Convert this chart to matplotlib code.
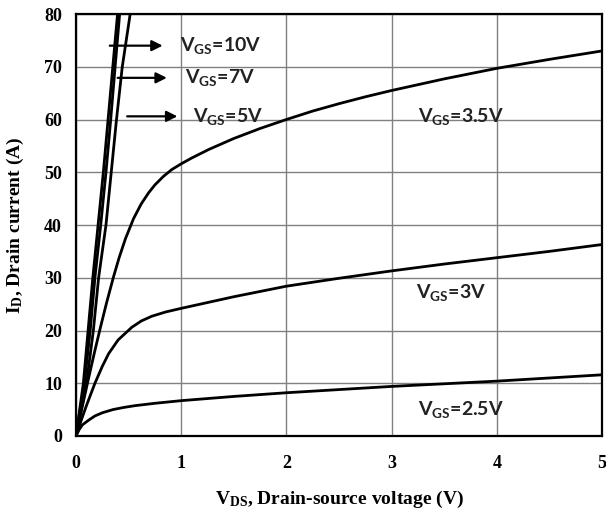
import numpy as np
import matplotlib
matplotlib.use('Agg')
import matplotlib.pyplot as plt

# drain current levels (A) used for the near-vertical curves
id_steep = [0, 10, 20, 30, 40, 50, 60, 70, 80]
vds_10v = [0, 0.07, 0.115, 0.16, 0.21, 0.26, 0.305, 0.35, 0.395]
vds_7v = [0, 0.08, 0.135, 0.18, 0.235, 0.285, 0.33, 0.372, 0.415]
vds_5v = [0, 0.1, 0.165, 0.215, 0.285, 0.335, 0.385, 0.44, 0.515]

vds_35 = [0, 0.06, 0.12, 0.175, 0.23, 0.29, 0.357, 0.41, 0.47, 0.547, 0.62, 0.69, 0.75,
          0.83, 0.91, 1.0, 1.1, 1.26, 1.5, 1.75, 2.0, 2.25, 2.5, 2.75, 3.0, 3.5, 4.0, 4.5, 5.0]
id_35 = [0, 5.6, 11.0, 15.8, 20.4, 25.2, 30.2, 33.8, 37.4, 41.2, 44.0, 46.1, 47.6,
         49.2, 50.5, 51.6, 52.7, 54.3, 56.4, 58.3, 60.0, 61.6, 63.0, 64.3, 65.5, 67.7, 69.7, 71.4, 73]

vds_3 = [0, 0.05, 0.1, 0.18, 0.25, 0.31, 0.4, 0.53, 0.62, 0.72, 0.85, 1.0, 1.25, 1.5,
         1.75, 2.0, 2.5, 3.0, 3.5, 4.0, 4.5, 5.0]
id_3 = [0, 3.0, 5.8, 10.0, 13.2, 15.6, 18.2, 20.6, 21.8, 22.7, 23.5, 24.2, 25.3, 26.4,
        27.4, 28.4, 29.9, 31.3, 32.6, 33.8, 35.0, 36.3]

vds_25 = [0, 0.03, 0.06, 0.12, 0.18, 0.25, 0.35, 0.45, 0.56, 0.75, 1.0, 1.5, 2.0, 2.5,
          3.0, 3.5, 4.0, 4.5, 5.0]
id_25 = [0, 1.2, 2.1, 3.0, 3.8, 4.4, 5.0, 5.4, 5.75, 6.2, 6.7, 7.5, 8.2, 8.8,
         9.4, 9.9, 10.4, 11.0, 11.6]

labels = ['10V', '7V', '5V', '3.5V', '3V', '2.5V']
label_x = [0.99, 1.04, 1.11, 3.25, 3.23, 3.25]
label_y = [74, 67.9, 60.6, 60.5, 27.2, 5.1]
arrow_start = [0.295, 0.37, 0.46]
arrow_end = [0.85, 0.89, 0.99]

fig = plt.figure(figsize=(6.06, 5.15), dpi=100)
ax = fig.add_axes([0.1254, 0.1534, 0.868, 0.8194])

for v in [vds_10v, vds_7v, vds_5v]:
    ax.plot(v, id_steep, color='black', lw=2)
ax.plot(vds_35, id_35, color='black', lw=2)
ax.plot(vds_3, id_3, color='black', lw=2)
ax.plot(vds_25, id_25, color='black', lw=2)

ax.set_xlim(0, 5)
ax.set_ylim(0, 80)
ax.set_xticks(range(0, 6))
ax.set_yticks(range(0, 81, 10))
ax.grid(True, color='#808080', lw=1)
ax.set_axisbelow(True)
ax.tick_params(length=0, labelsize=13)
ax.tick_params(axis='x', pad=14)
ax.tick_params(axis='y', pad=10)
for t in ax.get_xticklabels() + ax.get_yticklabels():
    t.set_fontfamily('Liberation Serif')
    t.set_fontweight('bold')
for s in ax.spines.values():
    s.set_linewidth(1.6)

ax.set_xlabel(r'V$\mathregular{_{DS}}$, Drain-source voltage (V)', family='Liberation Serif',
              weight='bold', fontsize=14, labelpad=12)
ax.set_ylabel(r'I$\mathregular{_{D}}$, Drain current (A)', family='Liberation Serif',
              weight='bold', fontsize=14, labelpad=13)

for i, lab in enumerate(labels):
    ax.text(label_x[i], label_y[i], r'V$\mathregular{_{GS}}$=' + lab, family='Lato',
            weight='bold', fontsize=14, color='#222222', va='center', ha='left')

for i in range(3):
    ax.annotate('', xy=(arrow_end[i], label_y[i]), xytext=(arrow_start[i], label_y[i]),
                arrowprops=dict(arrowstyle='-|>', color='black', lw=1.6, mutation_scale=16))

fig.savefig('out.png', dpi=100)
